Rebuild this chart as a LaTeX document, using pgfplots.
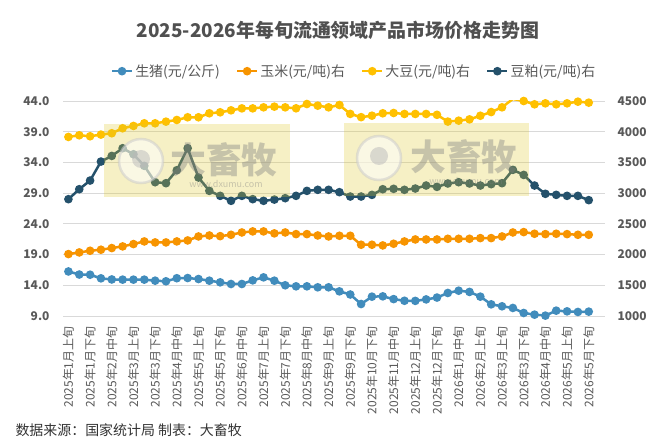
\documentclass[border=0pt]{standalone}
\usepackage{fontspec}
\setmainfont{Noto Sans CJK SC}
\usepackage{pgfplots}
\pgfplotsset{compat=1.18}
\usepackage{pgfplotstable}
\definecolor{pigc}{RGB}{65,140,188}
\definecolor{cornc}{RGB}{247,148,0}
\definecolor{soyc}{RGB}{255,192,0}
\definecolor{mealc}{RGB}{36,81,107}
\definecolor{gridc}{RGB}{217,217,217}
\definecolor{labc}{RGB}{89,89,89}
\definecolor{titc}{RGB}{80,80,80}
\definecolor{wmy}{RGB}{222,200,45}

\pgfplotstableread{
x pig corn soy meal
0 16.25 2008 3915 2902
1 15.75 2035 3942 3064
2 15.72 2062 3926 3205
3 15.13 2079 3953 3514
4 14.95 2106 3975 3606
5 14.92 2133 4056 3731
6 14.92 2171 4094 3633
7 14.92 2214 4137 3444
8 14.75 2198 4137 3178
9 14.65 2198 4164 3162
10 15.15 2214 4191 3373
11 15.18 2230 4235 3731
12 15.02 2295 4235 3254
13 14.75 2311 4300 3037
14 14.48 2300 4316 2956
15 14.21 2322 4348 2875
16 14.21 2360 4380 2956
17 14.80 2377 4380 2902
18 15.29 2377 4397 2875
19 14.75 2345 4408 2895
20 14.00 2360 4397 2918
21 13.83 2333 4381 2956
22 13.83 2333 4451 3037
23 13.67 2311 4424 3054
24 13.67 2295 4397 3054
25 13.01 2306 4435 3016
26 12.50 2306 4290 2945
27 10.95 2160 4237 2945
28 12.15 2160 4261 2972
29 12.20 2149 4300 3064
30 11.75 2176 4305 3070
31 11.48 2214 4289 3054
32 11.46 2246 4289 3075
33 11.70 2246 4289 3124
34 12.00 2246 4275 3102
35 12.75 2257 4165 3157
36 13.12 2257 4180 3178
37 12.92 2257 4201 3157
38 12.15 2268 4260 3124
39 10.90 2268 4320 3146
40 10.58 2295 4397 3162
41 10.31 2360 4533 3379
42 9.49 2366 4500 3297
43 9.22 2339 4446 3124
44 9.06 2333 4462 2989
45 9.87 2339 4446 2972
46 9.76 2333 4462 2956
47 9.66 2322 4489 2956
48 9.71 2322 4473 2886
}\datatable

\pgfplotsset{
  common/.style={
    at={(63bp,126bp)}, anchor=south west,
    scale only axis, width=542bp, height=215bp,
    xmin=-0.5, xmax=49.5,
    axis line style={draw=none},
    major tick length=0pt,
    /pgf/number format/assume math mode=true,
    y tick label style={font=\bfseries\fontsize{12}{12}\selectfont, text=labc},
  },
  pigs/.style={color=pigc, line width=2.5bp, mark=*, mark size=3bp, mark options={fill=pigc, draw=pigc}},
  corns/.style={color=cornc, line width=2.5bp, mark=*, mark size=3bp, mark options={fill=cornc, draw=cornc}},
  soys/.style={color=soyc, line width=2.5bp, mark=*, mark size=3bp, mark options={fill=soyc, draw=soyc}},
  meals/.style={color=mealc, line width=2.5bp, mark=*, mark size=3bp, mark options={fill=mealc, draw=mealc}},
}

\begin{document}
\begin{tikzpicture}
\useasboundingbox (0,0) rectangle (670bp,442bp);

\begin{axis}[common,
  ymin=9, ymax=44, ytick={9,14,19,24,29,34,39,44},
  y tick label style={xshift=-10bp, /pgf/number format/fixed, /pgf/number format/fixed zerofill, /pgf/number format/precision=1},
  ymajorgrids, grid style={gridc, line width=0.8bp},
  xtick={0,2,...,48},
  xticklabels={2025年1月上旬,2025年1月下旬,2025年2月中旬,2025年3月上旬,2025年3月下旬,2025年4月中旬,2025年5月上旬,2025年5月下旬,2025年6月中旬,2025年7月上旬,2025年7月下旬,2025年8月中旬,2025年9月上旬,2025年9月下旬,2025年10月下旬,2025年11月中旬,2025年12月上旬,2025年12月下旬,2026年1月中旬,2026年2月上旬,2026年3月上旬,2026年3月下旬,2026年4月中旬,2026年5月上旬,2026年5月下旬},
  x tick label style={rotate=90, anchor=east, xshift=-7bp, font=\fontsize{12}{12}\selectfont, text=labc},
]
\addplot[pigs] table[x=x,y=pig]{\datatable};
\end{axis}

\begin{axis}[common,
  ymin=1000, ymax=4500, ytick={1000,1500,...,4500},
  axis y line*=right, hide x axis,
  y tick label style={xshift=9bp, /pgf/number format/1000 sep={}},
  legend style={at={(0.5,1)}, anchor=south, yshift=19bp, xshift=20bp, draw=none, fill=none,
    font=\fontsize{14}{14}\selectfont, text=labc,
    /tikz/every even column/.append style={column sep=14bp}},
  legend columns=4,
  legend image code/.code={\draw[mark repeat=2,mark phase=2,#1] plot coordinates {(0bp,0bp) (10bp,0bp) (20bp,0bp)};},
]
\addlegendimage{pigs}
\addlegendentry{生猪(元/公斤)}
\addplot[corns] table[x=x,y=corn]{\datatable};
\addlegendentry{玉米(元/吨)右}
\addplot[soys] table[x=x,y=soy]{\datatable};
\addlegendentry{大豆(元/吨)右}
\addplot[meals] table[x=x,y=meal]{\datatable};
\addlegendentry{豆粕(元/吨)右}
\end{axis}

% watermarks
\fill[wmy, opacity=0.28] (104bp,245bp) rectangle (290bp,318bp);
\filldraw[fill=white, draw=gray!40, line width=2.5bp, opacity=0.55] (141bp,281bp) circle (22bp);
\fill[gray!55, opacity=0.5] (141bp,283bp) circle (9bp);
\node[text=gray, opacity=0.4, font=\bfseries\fontsize{36}{36}\selectfont] at (224bp,282bp) {大畜牧};
\node[text=gray, opacity=0.4, font=\fontsize{9}{9}\selectfont] at (226bp,258bp) {www.dxumu.com};

\fill[wmy, opacity=0.28] (344bp,246bp) rectangle (529bp,319bp);
\filldraw[fill=white, draw=gray!40, line width=2.5bp, opacity=0.55] (379bp,284bp) circle (22bp);
\fill[gray!55, opacity=0.5] (379bp,286bp) circle (9bp);
\node[text=gray, opacity=0.4, font=\bfseries\fontsize{36}{36}\selectfont] at (464bp,285bp) {大畜牧};
\node[text=gray, opacity=0.4, font=\fontsize{9}{9}\selectfont] at (466bp,261bp) {www.dxumu.com};

\node[font=\bfseries\fontsize{19}{19}\selectfont, text=titc] at (338bp,412bp) {2025-2026年每旬流通领域产品市场价格走势图};
\node[anchor=west, font=\fontsize{14}{14}\selectfont, text=black!80] at (12bp,12bp) {数据来源：国家统计局 制表：大畜牧};
\end{tikzpicture}
\end{document}
